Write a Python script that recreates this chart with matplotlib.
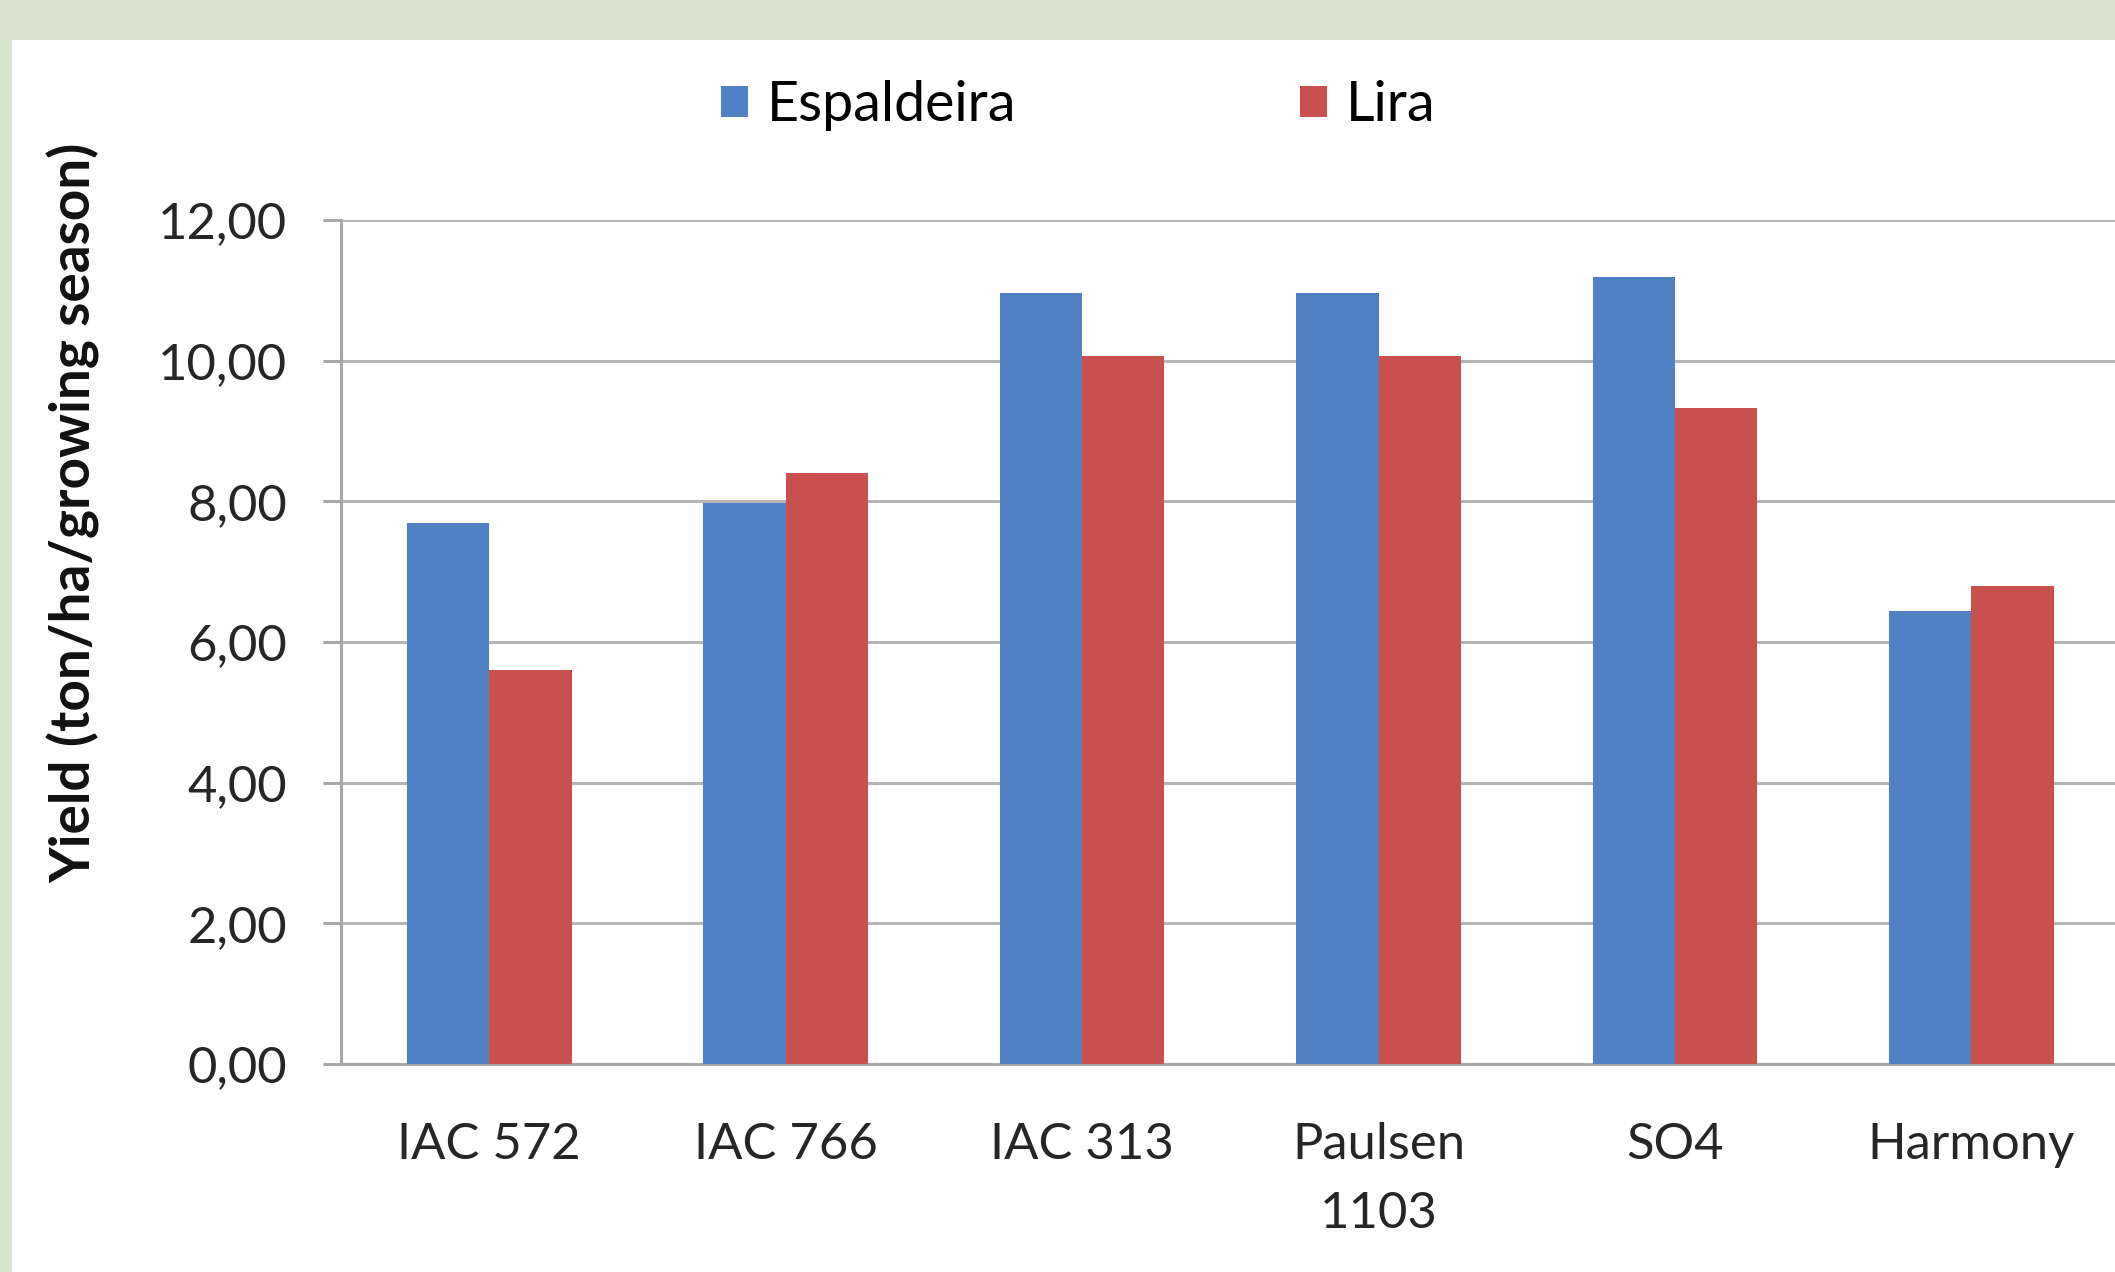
import numpy as np
import matplotlib
matplotlib.use("Agg")
from matplotlib import pyplot as plt
from matplotlib.patches import Rectangle

categories = ["IAC 572", "IAC 766", "IAC 313", "Paulsen\n1103", "SO4", "Harmony"]
espaldeira = [7.69, 7.97, 10.96, 10.96, 11.19, 6.44]
lira = [5.60, 8.41, 10.06, 10.06, 9.33, 6.80]
y_ticks = [0, 2, 4, 6, 8, 10, 12]
y_labels = ["0,00", "2,00", "4,00", "6,00", "8,00", "10,00", "12,00"]

plt.rcParams['font.family'] = ['Lato', 'DejaVu Sans']

fig = plt.figure(figsize=(21.15, 12.72), dpi=100)
fig.patch.set_facecolor('#d9e4cc')
# white slide panel over the textured background
fig.patches.append(Rectangle((12 / 2115, 0), 1, 1 - 40 / 1272,
                             transform=fig.transFigure, facecolor='white',
                             edgecolor='none', zorder=-5))

ax = fig.add_axes([0.1612, 0.1635, 0.841, 0.6635])
ax.set_facecolor('white')

x = np.arange(len(categories))
w = 0.278
ax.bar(x - w / 2, espaldeira, w, color='#4f81c4', label='Espaldeira', zorder=3)
ax.bar(x + w / 2, lira, w, color='#c9504d', label='Lira', zorder=3)

ax.set_xlim(-0.5, 5.5)
ax.set_ylim(0, 12)
ax.set_yticks(y_ticks)
ax.set_yticklabels(y_labels)
ax.set_xticks(x)
ax.set_xticklabels(categories, linespacing=1.6)

ax.yaxis.grid(True, color='#b5b5b5', linewidth=2.2, zorder=0)
ax.set_axisbelow(True)
for s in ['top', 'right']:
    ax.spines[s].set_visible(False)
for s in ['left', 'bottom']:
    ax.spines[s].set_color('#a8a8a8')
    ax.spines[s].set_linewidth(2.2)

ax.tick_params(axis='y', length=13, width=2.2, color='#a8a8a8', pad=26,
               labelsize=36.5, labelcolor='#262626')
ax.tick_params(axis='x', length=0, pad=42, labelsize=36.5, labelcolor='#262626')

ax.set_ylabel("Yield (ton/ha/growing season)", fontsize=39.5, fontweight='bold',
              color='#111111')
ax.yaxis.set_label_coords(-0.135, 0.653)

fig.legend(loc='center', bbox_to_anchor=(0.5097, 0.917), ncol=2, frameon=False,
           fontsize=40, handlelength=0.49, handleheight=0.49, handletextpad=0.34,
           columnspacing=5.1)

fig.savefig("out.png", dpi=100, facecolor=fig.get_facecolor())
